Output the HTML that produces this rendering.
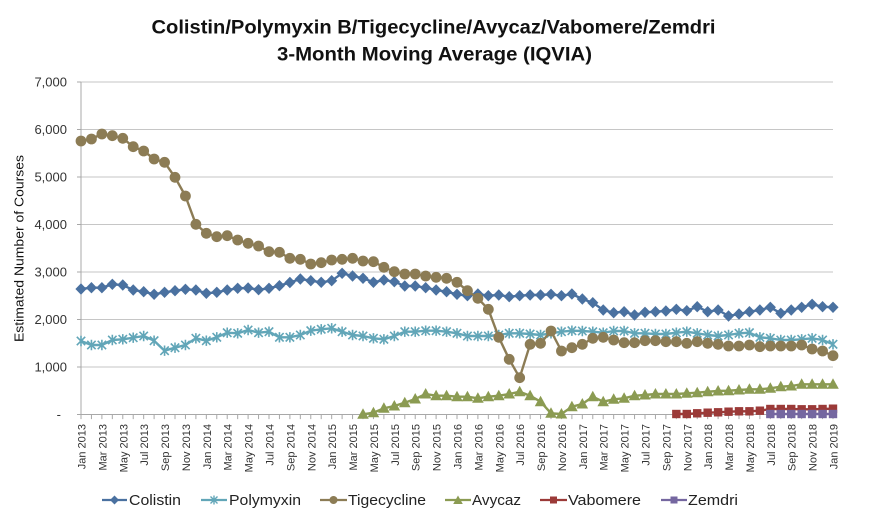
<!DOCTYPE html>
<html>
<head>
<meta charset="utf-8">
<style>
  html,body{margin:0;padding:0;background:#fff;}
  svg{display:block;}
  text{font-family:"Liberation Sans",sans-serif;}
</style>
</head>
<body>
<svg width="892" height="520" viewBox="0 0 892 520" xmlns="http://www.w3.org/2000/svg">
  <defs>
    <marker id="mDia" markerWidth="12" markerHeight="12" refX="6" refY="6" markerUnits="userSpaceOnUse" overflow="visible">
      <path d="M6 0.3 L11.6 6 L6 11.7 L0.4 6Z" fill="#4a71a0"/>
    </marker>
    <marker id="mAst" markerWidth="12" markerHeight="12" refX="6" refY="6" markerUnits="userSpaceOnUse" overflow="visible">
      <path d="M1.8 1.8 L10.2 10.2 M10.2 1.8 L1.8 10.2 M6 0.8 L6 11.2" stroke="#62a6b8" stroke-width="1.6" fill="none"/>
    </marker>
    <marker id="mCir" markerWidth="12" markerHeight="12" refX="6" refY="6" markerUnits="userSpaceOnUse" overflow="visible">
      <circle cx="6" cy="6" r="5.4" fill="#8c7c55"/>
    </marker>
    <marker id="mTri" markerWidth="12" markerHeight="12" refX="6" refY="6.5" markerUnits="userSpaceOnUse" overflow="visible">
      <path d="M6 0.5 L11.8 11 L0.2 11Z" fill="#8b9b52"/>
    </marker>
    <marker id="mSqR" markerWidth="10" markerHeight="10" refX="5" refY="5" markerUnits="userSpaceOnUse" overflow="visible">
      <rect x="0.8" y="0.8" width="8.4" height="8.4" fill="#9b3a38"/>
    </marker>
    <marker id="mSqP" markerWidth="10" markerHeight="10" refX="5" refY="5" markerUnits="userSpaceOnUse" overflow="visible">
      <rect x="0.8" y="0.8" width="8.4" height="8.4" fill="#7567a0"/>
    </marker>
  </defs>

  <rect x="0" y="0" width="892" height="520" fill="#ffffff"/>

  <!-- Title -->
  <text x="433.5" y="33.5" text-anchor="middle" font-size="19.5" font-weight="bold" fill="#111" textLength="564" lengthAdjust="spacingAndGlyphs">Colistin/Polymyxin B/Tigecycline/Avycaz/Vabomere/Zemdri</text>
  <text x="434.5" y="60.5" text-anchor="middle" font-size="19.5" font-weight="bold" fill="#111" textLength="315" lengthAdjust="spacingAndGlyphs">3-Month Moving Average (IQVIA)</text>

  <!-- Gridlines -->
  <g stroke="#c6c6c6" stroke-width="1">
    <line x1="81" y1="82" x2="833" y2="82"/>
    <line x1="81" y1="129.5" x2="833" y2="129.5"/>
    <line x1="81" y1="177" x2="833" y2="177"/>
    <line x1="81" y1="224.5" x2="833" y2="224.5"/>
    <line x1="81" y1="272" x2="833" y2="272"/>
    <line x1="81" y1="319.5" x2="833" y2="319.5"/>
    <line x1="81" y1="367" x2="833" y2="367"/>
  </g>

  <!-- Axes -->
  <g stroke="#a8a8a8" stroke-width="1">
    <line x1="81" y1="82" x2="81" y2="414.5"/>
    <line x1="81" y1="414.5" x2="833.5" y2="414.5"/>
    <line x1="77" y1="82" x2="81" y2="82"/>
    <line x1="77" y1="129.5" x2="81" y2="129.5"/>
    <line x1="77" y1="177" x2="81" y2="177"/>
    <line x1="77" y1="224.5" x2="81" y2="224.5"/>
    <line x1="77" y1="272" x2="81" y2="272"/>
    <line x1="77" y1="319.5" x2="81" y2="319.5"/>
    <line x1="77" y1="367" x2="81" y2="367"/>
    <line x1="77" y1="414.5" x2="81" y2="414.5"/>
  </g>
  <line x1="80.5" y1="416.8" x2="834" y2="416.8" stroke="#a8a8a8" stroke-width="4.6" stroke-dasharray="1 9.4444"/>

  <!-- Y tick labels -->
  <g font-size="13" fill="#333" text-anchor="end">
    <text x="67" y="86.5">7,000</text>
    <text x="67" y="134">6,000</text>
    <text x="67" y="181.5">5,000</text>
    <text x="67" y="229">4,000</text>
    <text x="67" y="276.5">3,000</text>
    <text x="67" y="324">2,000</text>
    <text x="67" y="371.5">1,000</text>
    <text x="61" y="419">-</text>
  </g>

  <!-- Y axis title -->
  <text transform="translate(23.5,248.5) rotate(-90)" text-anchor="middle" font-size="13" fill="#111" textLength="187" lengthAdjust="spacingAndGlyphs">Estimated Number of Courses</text>

  <!-- X tick labels -->
  <g font-size="11" fill="#333" text-anchor="end">
    <text transform="translate(85.5,424) rotate(-90)">Jan 2013</text>
    <text transform="translate(106.39,424) rotate(-90)">Mar 2013</text>
    <text transform="translate(127.28,424) rotate(-90)">May 2013</text>
    <text transform="translate(148.17,424) rotate(-90)">Jul 2013</text>
    <text transform="translate(169.06,424) rotate(-90)">Sep 2013</text>
    <text transform="translate(189.94,424) rotate(-90)">Nov 2013</text>
    <text transform="translate(210.83,424) rotate(-90)">Jan 2014</text>
    <text transform="translate(231.72,424) rotate(-90)">Mar 2014</text>
    <text transform="translate(252.61,424) rotate(-90)">May 2014</text>
    <text transform="translate(273.5,424) rotate(-90)">Jul 2014</text>
    <text transform="translate(294.39,424) rotate(-90)">Sep 2014</text>
    <text transform="translate(315.28,424) rotate(-90)">Nov 2014</text>
    <text transform="translate(336.17,424) rotate(-90)">Jan 2015</text>
    <text transform="translate(357.06,424) rotate(-90)">Mar 2015</text>
    <text transform="translate(377.94,424) rotate(-90)">May 2015</text>
    <text transform="translate(398.83,424) rotate(-90)">Jul 2015</text>
    <text transform="translate(419.72,424) rotate(-90)">Sep 2015</text>
    <text transform="translate(440.61,424) rotate(-90)">Nov 2015</text>
    <text transform="translate(461.5,424) rotate(-90)">Jan 2016</text>
    <text transform="translate(482.39,424) rotate(-90)">Mar 2016</text>
    <text transform="translate(503.28,424) rotate(-90)">May 2016</text>
    <text transform="translate(524.17,424) rotate(-90)">Jul 2016</text>
    <text transform="translate(545.06,424) rotate(-90)">Sep 2016</text>
    <text transform="translate(565.94,424) rotate(-90)">Nov 2016</text>
    <text transform="translate(586.83,424) rotate(-90)">Jan 2017</text>
    <text transform="translate(607.72,424) rotate(-90)">Mar 2017</text>
    <text transform="translate(628.61,424) rotate(-90)">May 2017</text>
    <text transform="translate(649.5,424) rotate(-90)">Jul 2017</text>
    <text transform="translate(670.39,424) rotate(-90)">Sep 2017</text>
    <text transform="translate(691.28,424) rotate(-90)">Nov 2017</text>
    <text transform="translate(712.17,424) rotate(-90)">Jan 2018</text>
    <text transform="translate(733.06,424) rotate(-90)">Mar 2018</text>
    <text transform="translate(753.94,424) rotate(-90)">May 2018</text>
    <text transform="translate(774.83,424) rotate(-90)">Jul 2018</text>
    <text transform="translate(795.72,424) rotate(-90)">Sep 2018</text>
    <text transform="translate(816.61,424) rotate(-90)">Nov 2018</text>
    <text transform="translate(837.5,424) rotate(-90)">Jan 2019</text>
  </g>

  <!-- Series -->
  <g fill="none" stroke-width="2.4" stroke-linejoin="round" stroke-linecap="round">
    <polyline stroke="#4a71a0" marker-start="url(#mDia)" marker-mid="url(#mDia)" marker-end="url(#mDia)"
      points="81.0,289 91.44,287.7 101.89,287.7 112.33,284.3 122.78,285 133.22,290 143.67,291.7 154.11,294.3 164.56,292.3 175.0,290.7 185.44,289.3 195.89,290 206.33,293.3 216.78,292.3 227.22,290 237.67,288.3 248.11,288 258.56,289.7 269.0,288.3 279.44,285.7 289.89,282.5 300.33,279 310.78,280.7 321.22,282.3 331.67,280.7 342.11,273.3 352.56,276 363.0,278.3 373.44,282.3 383.89,280 394.33,281.7 404.78,286 415.22,286 425.67,287.7 436.11,290 446.56,291.7 457.0,294.3 467.44,295.7 477.89,294 488.33,295.7 498.78,295 509.22,296.7 519.67,295.7 530.11,295 540.56,295 551.0,294.3 561.44,295.7 571.89,294 582.33,299 592.78,302.7 603.22,310 613.67,312.7 624.11,311.7 634.56,315 645.0,312.3 655.44,311.7 665.89,311 676.33,309.3 686.78,310.7 697.22,306.7 707.67,311.7 718.11,310 728.56,316 739.0,314 749.44,311.7 759.89,310 770.33,307.3 780.78,313.3 791.22,310 801.67,307.3 812.11,304.3 822.56,306.7 833.0,307.3"/>
    <polyline stroke="#62a6b8" marker-start="url(#mAst)" marker-mid="url(#mAst)" marker-end="url(#mAst)"
      points="81.0,341 91.44,345 101.89,345 112.33,340 122.78,339.3 133.22,337.7 143.67,336 154.11,340.7 164.56,350.7 175.0,347.7 185.44,345 195.89,338.3 206.33,340.7 216.78,337.3 227.22,332.7 237.67,333.3 248.11,330 258.56,332.7 269.0,331.7 279.44,337.3 289.89,337.3 300.33,335 310.78,330.7 321.22,329.3 331.67,328.3 342.11,331.7 352.56,335 363.0,336 373.44,338.3 383.89,339.3 394.33,336 404.78,331.7 415.22,331.7 425.67,330.7 436.11,330.7 446.56,331.7 457.0,333.3 467.44,336 477.89,336 488.33,336 498.78,335 509.22,333.3 519.67,333.3 530.11,334 540.56,335 551.0,333.3 561.44,331.7 571.89,330.7 582.33,331 592.78,331.7 603.22,332.7 613.67,331 624.11,331 634.56,333.3 645.0,333.3 655.44,334 665.89,334 676.33,332.7 686.78,331.7 697.22,333.3 707.67,335 718.11,336 728.56,335 739.0,333.3 749.44,332.7 759.89,337.3 770.33,338.3 780.78,340 791.22,340 801.67,339.3 812.11,338.3 822.56,340 833.0,344.3"/>
    <polyline stroke="#8c7c55" marker-start="url(#mCir)" marker-mid="url(#mCir)" marker-end="url(#mCir)"
      points="81.0,141 91.44,139 101.89,134 112.33,135.7 122.78,138.3 133.22,146.7 143.67,151 154.11,159 164.56,162.3 175.0,177.3 185.44,196 195.89,224.3 206.33,233.3 216.78,236.7 227.22,235.7 237.67,240 248.11,243.3 258.56,246 269.0,251.7 279.44,252.3 289.89,258.3 300.33,259.3 310.78,264 321.22,262.7 331.67,260 342.11,259.3 352.56,258.3 363.0,261 373.44,261.7 383.89,267.3 394.33,271.7 404.78,274 415.22,274 425.67,276 436.11,277.3 446.56,278.3 457.0,282.3 467.44,290.7 477.89,298.3 488.33,309.3 498.78,337.3 509.22,359.3 519.67,377.7 530.11,344.3 540.56,343.3 551.0,331 561.44,351 571.89,347.7 582.33,344.3 592.78,338.3 603.22,337.3 613.67,340 624.11,342.7 634.56,342.7 645.0,340.7 655.44,340.7 665.89,341.7 676.33,341.7 686.78,343.3 697.22,341.7 707.67,343.3 718.11,344.3 728.56,346 739.0,346 749.44,345 759.89,346.7 770.33,346 780.78,346 791.22,346 801.67,345 812.11,349 822.56,351 833.0,355.7"/>
    <polyline stroke="#8b9b52" marker-start="url(#mTri)" marker-mid="url(#mTri)" marker-end="url(#mTri)"
      points="363.0,414.3 373.44,412.7 383.89,408.3 394.33,406 404.78,402.7 415.22,399 425.67,394 436.11,395.7 446.56,395.7 457.0,396.7 467.44,396.7 477.89,398.3 488.33,396.7 498.78,395.7 509.22,394 519.67,391.7 530.11,395.7 540.56,401.7 551.0,413.3 561.44,414 571.89,406.7 582.33,404 592.78,396.7 603.22,401.7 613.67,399.3 624.11,398.3 634.56,395.7 645.0,395 655.44,394 665.89,394 676.33,394 686.78,393.3 697.22,392.7 707.67,391.7 718.11,391 728.56,390.7 739.0,390 749.44,389.3 759.89,389.3 770.33,388.3 780.78,386.7 791.22,386 801.67,384.3 812.11,384.3 822.56,384.3 833.0,384.3"/>
    <polyline stroke="#9b3a38" marker-start="url(#mSqR)" marker-mid="url(#mSqR)" marker-end="url(#mSqR)"
      points="676.33,414 686.78,414 697.22,413.3 707.67,412.7 718.11,412.3 728.56,411.7 739.0,411.3 749.44,411.3 759.89,410.7 770.33,409 780.78,409 791.22,409 801.67,409.3 812.11,409.3 822.56,409 833.0,408.7"/>
    <polyline stroke="#7567a0" marker-start="url(#mSqP)" marker-mid="url(#mSqP)" marker-end="url(#mSqP)"
      points="770.33,414 780.78,414 791.22,414 801.67,414 812.11,414 822.56,414 833.0,414"/>
  </g>

  <!-- Legend -->
  <g stroke-width="2.2">
    <line x1="102" y1="500" x2="127" y2="500" stroke="#4a71a0"/>
    <path d="M114.5 495.5 L119 500 L114.5 504.5 L110 500Z" fill="#4a71a0"/>
    <line x1="201" y1="500" x2="227" y2="500" stroke="#62a6b8"/>
    <path d="M210.5 496.5 L217.5 503.5 M217.5 496.5 L210.5 503.5 M214 495.5 L214 504.5" stroke="#62a6b8" stroke-width="1.4" fill="none"/>
    <line x1="320" y1="500" x2="347" y2="500" stroke="#8c7c55"/>
    <circle cx="333.5" cy="500" r="4" fill="#8c7c55"/>
    <line x1="445" y1="500" x2="471" y2="500" stroke="#8b9b52"/>
    <path d="M458 495.5 L462.8 504 L453.2 504Z" fill="#8b9b52"/>
    <line x1="540" y1="500" x2="567" y2="500" stroke="#9b3a38"/>
    <rect x="550" y="496.5" width="7" height="7" fill="#9b3a38"/>
    <line x1="661" y1="500" x2="687" y2="500" stroke="#7567a0"/>
    <rect x="670.5" y="496.5" width="7" height="7" fill="#7567a0"/>
  </g>
  <g font-size="15" fill="#222">
    <text x="129" y="505" textLength="52" lengthAdjust="spacingAndGlyphs">Colistin</text>
    <text x="229" y="505" textLength="72" lengthAdjust="spacingAndGlyphs">Polymyxin</text>
    <text x="348" y="505" textLength="78" lengthAdjust="spacingAndGlyphs">Tigecycline</text>
    <text x="472" y="505" textLength="49" lengthAdjust="spacingAndGlyphs">Avycaz</text>
    <text x="568" y="505" textLength="73" lengthAdjust="spacingAndGlyphs">Vabomere</text>
    <text x="688" y="505" textLength="50" lengthAdjust="spacingAndGlyphs">Zemdri</text>
  </g>
</svg>
</body>
</html>
